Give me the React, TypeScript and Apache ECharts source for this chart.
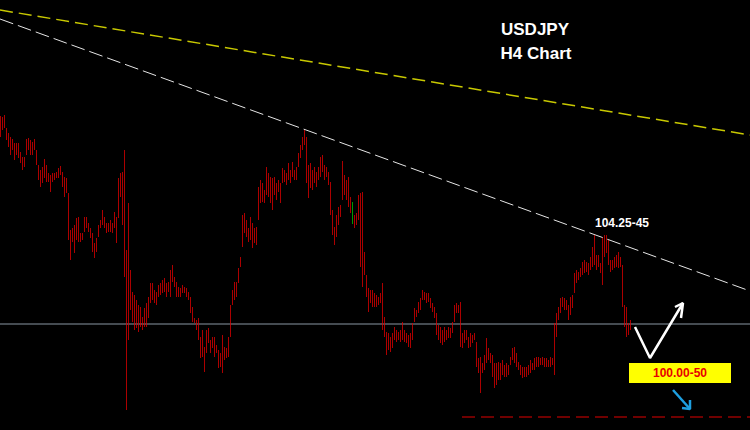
import React, { useEffect, useRef } from "react";
import * as echarts from "echarts";

// USDJPY H4 — bar highs and lows (price), one entry per bar
const barHighs: number[] = [
  108.02, 107.99, 108.05, 107.66, 107.51, 107.39, 107.33, 107.21, 107.21, 107.21,
  106.94, 106.79, 106.79, 107.33, 107.36, 107.30, 107.24, 107.33, 107.00, 106.55,
  106.40, 106.49, 106.73, 106.55, 106.31, 106.25, 106.31, 106.31, 106.34, 106.46,
  106.52, 106.34, 106.19, 106.16, 105.71, 104.60, 104.66, 104.75, 104.96, 104.99,
  104.51, 104.51, 104.99, 104.99, 104.81, 104.66, 104.51, 104.21, 104.36, 104.75,
  104.90, 105.20, 104.99, 104.81, 104.81, 104.90, 104.81, 105.14, 104.99, 106.16,
  106.31, 106.34, 107.00, 104.00, 105.41, 103.40, 102.74, 102.65, 102.50, 102.35,
  102.29, 101.99, 102.26, 102.41, 102.59, 103.01, 103.01, 102.80, 102.74, 102.95,
  103.01, 103.10, 103.16, 103.01, 103.04, 103.40, 103.55, 103.19, 103.04, 102.89,
  102.86, 102.95, 102.89, 102.86, 102.74, 102.59, 102.29, 101.96, 101.90, 101.96,
  101.39, 101.60, 101.09, 101.60, 101.66, 101.30, 101.39, 101.39, 101.15, 101.00,
  100.91, 101.45, 101.09, 101.06, 101.39, 102.35, 102.80, 103.04, 103.04, 103.46,
  103.79, 105.05, 105.11, 104.90, 104.66, 104.99, 104.81, 104.66, 104.69, 105.89,
  106.10, 106.01, 105.80, 106.49, 106.31, 106.19, 106.16, 106.19, 106.01, 106.10,
  106.01, 106.46, 106.40, 106.31, 106.61, 106.40, 106.64, 106.40, 106.49, 106.91,
  107.15, 107.39, 107.63, 107.39, 106.55, 106.61, 106.40, 106.49, 106.34, 106.49,
  106.79, 106.85, 106.55, 106.49, 106.34, 106.04, 105.20, 104.69, 105.05, 105.29,
  105.35, 106.67, 106.25, 106.10, 106.19, 105.59, 105.44, 105.05, 105.11, 105.65,
  105.71, 105.74, 103.94, 103.25, 102.86, 102.80, 102.80, 102.71, 102.65, 102.59,
  102.71, 103.01, 101.99, 101.54, 101.51, 101.39, 101.51, 101.69, 101.60, 101.54,
  101.60, 101.84, 101.60, 101.51, 101.45, 101.51, 101.81, 102.26, 102.20, 102.44,
  102.56, 102.80, 102.74, 102.71, 102.71, 102.56, 102.41, 102.29, 102.11, 101.75,
  101.69, 101.60, 101.69, 101.60, 101.69, 101.66, 101.84, 102.35, 102.41, 102.35,
  102.44, 101.51, 101.60, 101.60, 101.39, 101.51, 101.45, 101.51, 101.24, 100.76,
  100.79, 100.61, 100.85, 101.36, 101.06, 100.91, 100.85, 100.61, 100.61, 100.64,
  100.61, 100.70, 100.55, 100.61, 100.55, 100.79, 101.06, 101.09, 100.91, 100.64,
  100.55, 100.49, 100.49, 100.49, 100.55, 100.70, 100.61, 100.76, 100.79, 100.79,
  100.76, 100.79, 100.76, 100.76, 100.70, 100.79, 100.76, 101.81, 102.11, 102.29,
  102.56, 102.59, 102.56, 102.50, 102.35, 102.59, 102.65, 103.31, 103.40, 103.34,
  103.46, 103.64, 103.70, 103.64, 103.61, 103.79, 104.09, 104.45, 103.85, 103.85,
  103.61, 104.39, 104.45, 104.45, 104.30, 103.70, 103.70, 103.79, 103.85, 103.94,
  103.79, 103.55, 102.35, 102.29, 101.81, 101.90,
];

const barLows: number[] = [
  107.39, 107.60, 107.66, 107.30, 107.09, 106.85, 107.00, 106.70, 106.85, 106.76,
  106.61, 106.40, 106.49, 106.85, 107.00, 106.85, 106.85, 107.00, 106.55, 106.10,
  105.89, 106.01, 106.16, 106.04, 106.04, 105.74, 106.04, 106.10, 106.16, 106.16,
  106.25, 105.89, 105.59, 105.71, 104.30, 103.70, 104.24, 103.91, 104.30, 104.24,
  104.24, 104.30, 104.54, 104.66, 104.54, 104.36, 103.94, 103.76, 103.94, 104.39,
  104.66, 104.75, 104.66, 104.51, 104.54, 104.54, 104.51, 104.66, 104.21, 104.96,
  105.59, 104.75, 103.19, 99.20, 101.30, 102.20, 101.84, 101.60, 101.66, 101.54,
  101.69, 101.60, 101.69, 101.69, 101.96, 102.41, 102.50, 102.41, 102.35, 102.59,
  102.65, 102.71, 102.74, 102.59, 102.74, 102.59, 103.04, 102.89, 102.59, 102.59,
  102.59, 102.71, 102.71, 102.59, 102.50, 102.11, 101.84, 101.81, 101.60, 101.30,
  100.76, 100.79, 100.34, 100.91, 101.21, 100.91, 101.06, 100.79, 100.91, 100.46,
  100.49, 100.31, 100.70, 100.76, 100.79, 101.39, 102.35, 102.50, 102.59, 103.01,
  103.49, 104.09, 104.51, 104.39, 104.24, 104.30, 104.06, 104.21, 104.15, 104.90,
  105.41, 105.44, 105.41, 105.65, 105.59, 105.41, 105.20, 105.65, 105.50, 105.74,
  105.41, 106.01, 106.04, 105.95, 106.10, 106.01, 106.19, 106.10, 106.10, 106.49,
  106.76, 107.00, 107.15, 106.01, 105.56, 105.86, 105.80, 106.01, 105.89, 106.10,
  106.19, 106.34, 106.10, 106.19, 105.95, 105.05, 104.45, 104.15, 104.39, 104.75,
  104.99, 105.50, 105.65, 105.50, 105.29, 105.11, 104.78, 104.66, 104.75, 104.90,
  103.49, 102.89, 103.25, 102.59, 102.14, 102.41, 102.29, 102.29, 102.29, 102.35,
  102.41, 101.60, 101.39, 100.85, 101.00, 100.94, 101.06, 101.30, 101.24, 101.30,
  101.24, 101.30, 101.24, 101.21, 101.09, 101.06, 101.30, 101.84, 101.99, 102.11,
  102.20, 102.50, 102.50, 102.41, 102.44, 102.26, 102.14, 101.96, 101.45, 101.30,
  101.21, 101.15, 101.24, 101.30, 101.36, 101.36, 101.51, 101.84, 102.11, 102.11,
  101.09, 101.06, 101.21, 101.30, 101.06, 101.09, 101.21, 101.30, 100.49, 100.31,
  99.71, 100.31, 100.40, 100.61, 100.70, 100.61, 100.19, 99.86, 99.95, 100.10,
  100.10, 100.25, 100.19, 100.19, 100.25, 100.55, 100.70, 100.61, 100.49, 100.40,
  100.25, 100.16, 100.19, 100.19, 100.25, 100.31, 100.40, 100.40, 100.49, 100.49,
  100.55, 100.55, 100.49, 100.49, 100.49, 100.49, 100.55, 100.25, 101.39, 101.90,
  102.11, 102.29, 102.20, 102.20, 101.90, 102.05, 102.26, 102.71, 103.01, 103.10,
  103.19, 103.25, 103.31, 103.34, 103.25, 103.40, 103.49, 103.55, 103.40, 103.49,
  103.31, 102.95, 103.79, 103.91, 103.55, 103.34, 103.40, 103.46, 103.49, 103.46,
  103.49, 102.29, 101.69, 101.39, 101.45, 101.60,
];

// the one rising bar shown in green
const greenBarIndex = 176;

// price axis range and slots on the time axis (bars + empty space on the right)
const priceMin = 98.6;
const priceMax = 111.5;
const slotCount = 375;

// trend / level lines: [slot, price]
const whiteTrend: [number, number][] = [[-0.5, 110.93], [374.5, 102.77]];
const yellowTrend: [number, number][] = [[-0.5, 111.2], [374.5, 107.45]];
const supportLevel = 101.78;
const targetLevel = 98.99;
const targetStart = 230.5;

// projected path arrows
const whiteArrow: [number, number][] = [[317, 101.69], [324.5, 100.76], [341, 102.41]];
const whiteArrowHead: [number, number][] = [[337, 102.29], [341, 102.41], [340, 101.96]];
const blueArrow: [number, number][] = [[336, 99.8], [344.5, 99.23]];
const blueArrowHead: [number, number][] = [[340.5, 99.26], [344.5, 99.23], [344.5, 99.5]];

// annotations
const peakLabel = "104.25-45";
const peakLabelAt: [number, number] = [310.5, 104.81];
const targetLabel = "100.00-50";
const targetLabelAt: [number, number] = [339.5, 100.31];
const titleLines = ["USDJPY", "H4 Chart"];

const FONT = "'Liberation Sans', Arial, sans-serif";

export default function App() {
  const ref = useRef<HTMLDivElement>(null);

  useEffect(() => {
    if (!ref.current) return;
    const chart = echarts.init(ref.current, undefined, { renderer: "svg" });

    const categories = Array.from({ length: slotCount }, (_, i) => String(i));
    const red = "#d80000";
    const green = "#00c000";
    const candles = barHighs.map((h, i) => {
      const l = barLows[i];
      if (i === greenBarIndex) {
        return {
          value: [l, h, l, h],
          itemStyle: { color: green, borderColor: green, color0: green, borderColor0: green },
        };
      }
      return { value: [l, h, l, h] };
    });

    const lineSeries = (data: [number, number][], color: string, width: number, type: any, z = 5) => ({
      type: "line",
      xAxisIndex: 1,
      yAxisIndex: 0,
      data,
      symbol: "none",
      silent: true,
      z,
      lineStyle: { color, width, type, opacity: 1 },
    });

    chart.setOption({
      animation: false,
      backgroundColor: "#000000",
      grid: { left: 0, right: 0, top: 0, bottom: 0, containLabel: false },
      xAxis: [
        {
          type: "category",
          data: categories,
          show: false,
          boundaryGap: true,
        },
        {
          type: "value",
          min: -0.5,
          max: slotCount - 0.5,
          show: false,
        },
      ],
      yAxis: {
        type: "value",
        min: priceMin,
        max: priceMax,
        show: false,
        splitLine: { show: false },
      },
      series: [
        lineSeries([[-0.5, supportLevel], [slotCount - 0.5, supportLevel]], "#8a97a3", 1, "solid", 1),
        {
          type: "candlestick",
          xAxisIndex: 0,
          yAxisIndex: 0,
          data: candles,
          barWidth: 1.2,
          z: 3,
          itemStyle: {
            color: red,
            color0: red,
            borderColor: red,
            borderColor0: red,
            borderWidth: 0.8,
          },
        },
        lineSeries(whiteTrend, "#e6e6e6", 1, [14, 5]),
        lineSeries(yellowTrend, "#c8c800", 1.5, [13, 6]),
        lineSeries([[targetStart, targetLevel], [slotCount - 0.5, targetLevel]], "#e00000", 1.2, [13, 6]),
        lineSeries(whiteArrow, "#ffffff", 2.5, "solid", 6),
        lineSeries(whiteArrowHead, "#ffffff", 2.5, "solid", 6),
        lineSeries(blueArrow, "#1e9fe0", 2.5, "solid", 6),
        lineSeries(blueArrowHead, "#1e9fe0", 2.5, "solid", 6),
        {
          type: "scatter",
          xAxisIndex: 1,
          yAxisIndex: 0,
          silent: true,
          z: 8,
          itemStyle: { opacity: 1 },
          data: [
            {
              value: peakLabelAt,
              symbolSize: 0,
              label: {
                show: true,
                position: "inside",
                formatter: peakLabel,
                color: "#ffffff",
                fontFamily: FONT,
                fontWeight: "bold",
                fontSize: 12,
              },
            },
            {
              value: targetLabelAt,
              symbol: "rect",
              symbolSize: [102, 20],
              itemStyle: { color: "#ffff00", opacity: 1 },
              label: {
                show: true,
                position: "inside",
                formatter: targetLabel,
                color: "#e80000",
                fontFamily: FONT,
                fontWeight: "bold",
                fontSize: 12,
              },
            },
          ],
        },
      ],
      graphic: [
        {
          type: "text",
          x: 535,
          y: 29,
          style: {
            text: titleLines[0],
            fill: "#ffffff",
            font: `bold 17px ${FONT}`,
            align: "center",
            verticalAlign: "middle",
          },
        },
        {
          type: "text",
          x: 536,
          y: 53,
          style: {
            text: titleLines[1],
            fill: "#ffffff",
            font: `bold 17px ${FONT}`,
            align: "center",
            verticalAlign: "middle",
          },
        },
      ],
    });

    return () => chart.dispose();
  }, []);

  return (
    <div
      ref={ref}
      style={{ position: "fixed", left: 0, top: 0, width: 750, height: 430, background: "#000" }}
    />
  );
}
